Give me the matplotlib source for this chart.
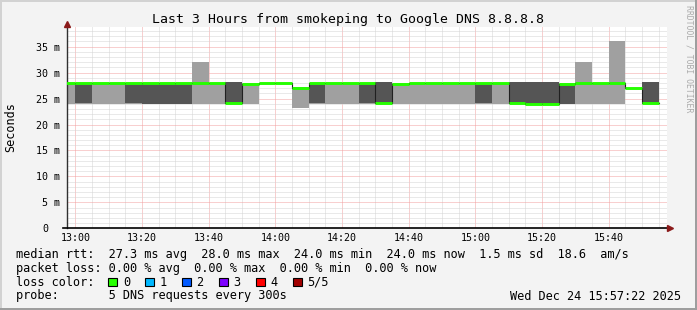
import numpy as np
import matplotlib
matplotlib.use("Agg")
import matplotlib.pyplot as plt
from matplotlib.patches import Rectangle
from matplotlib.transforms import ScaledTranslation

# ---------------- data (5-minute intervals, start times) ----------------
starts = ["12:55", "13:00", "13:05", "13:10", "13:15", "13:20", "13:25", "13:30",
          "13:35", "13:40", "13:45", "13:50", "13:55", "14:00", "14:05", "14:10",
          "14:15", "14:20", "14:25", "14:30", "14:35", "14:40", "14:45", "14:50",
          "14:55", "15:00", "15:05", "15:10", "15:15", "15:20", "15:25", "15:30",
          "15:35", "15:40", "15:45", "15:50"]
# outer smoke (min..max of pings), ms
smoke_lo = [24.0, 24.0, 24.0, 24.0, 24.0, 24.0, 24.0, 24.0,
            24.0, 24.0, 24.0, 24.0, 28.0, 28.0, 23.2, 24.0,
            24.0, 24.0, 24.0, 24.0, 24.0, 24.0, 24.0, 24.0,
            24.0, 24.0, 24.0, 24.0, 23.9, 23.9, 24.0, 24.0,
            24.0, 24.0, 27.1, 24.0]
smoke_hi = [28.0, 28.0, 28.0, 28.0, 28.0, 28.0, 28.0, 28.0,
            32.0, 28.0, 28.2, 28.0, 28.0, 28.0, 27.2, 28.0,
            28.0, 28.0, 28.0, 28.2, 28.0, 28.0, 28.0, 28.0,
            28.0, 28.0, 28.0, 28.2, 28.2, 28.2, 28.0, 32.0,
            28.0, 36.0, 27.1, 28.2]
# inner (darker) smoke, nan where none
core_lo = [np.nan, 24.2, np.nan, np.nan, 24.2, 24.0, 24.0, 24.0,
           np.nan, np.nan, 24.2, np.nan, np.nan, np.nan, np.nan, 24.2,
           np.nan, np.nan, 24.2, 24.2, np.nan, np.nan, np.nan, np.nan,
           np.nan, 24.2, np.nan, 24.2, 24.0, 24.0, 24.0, np.nan,
           np.nan, np.nan, np.nan, 24.2]
core_hi = [np.nan, 27.8, np.nan, np.nan, 27.8, 27.8, 27.8, 27.8,
           np.nan, np.nan, 28.2, np.nan, np.nan, np.nan, np.nan, 27.8,
           np.nan, np.nan, 27.8, 28.2, np.nan, np.nan, np.nan, np.nan,
           np.nan, 27.8, np.nan, 28.2, 28.2, 28.2, 27.8, np.nan,
           np.nan, np.nan, np.nan, 28.2]
median = [28.0, 28.0, 28.0, 28.0, 28.0, 28.0, 28.0, 28.0,
          28.0, 28.0, 24.2, 27.9, 28.0, 28.0, 27.1, 28.0,
          28.0, 28.0, 28.0, 24.2, 27.9, 28.0, 28.0, 28.0,
          28.0, 28.0, 28.0, 24.2, 23.9, 23.9, 27.9, 28.0,
          28.0, 28.0, 27.1, 24.2]
loss = [0] * len(starts)

xtick_labels = ["13:00", "13:20", "13:40", "14:00", "14:20", "14:40", "15:00", "15:20", "15:40"]
ytick_values = [0, 5, 10, 15, 20, 25, 30, 35]
ytick_labels = ["0", "5 m", "10 m", "15 m", "20 m", "25 m", "30 m", "35 m"]

loss_labels = ["0", "1", "2", "3", "4", "5/5"]
loss_colors = ["#26ff00", "#00b8ff", "#0059ff", "#7e00ff", "#ff0000", "#a10000"]

title = "Last 3 Hours from smokeping to Google DNS 8.8.8.8"
stats_line1 = "median rtt:  27.3 ms avg  28.0 ms max  24.0 ms min  24.0 ms now  1.5 ms sd  18.6  am/s"
stats_line2 = "packet loss: 0.00 % avg  0.00 % max  0.00 % min  0.00 % now"
probe_line = "probe:       5 DNS requests every 300s"
date_text = "Wed Dec 24 15:57:22 2025"
x_start, x_end = "12:57:22", "15:57:22"


def to_min(s):
    parts = [int(p) for p in s.split(":")]
    m = (parts[0] - 13) * 60 + parts[1]
    if len(parts) > 2:
        m += parts[2] / 60.0
    return m


# ---------------- figure ----------------
W, H = 697, 310
MONO = "DejaVu Sans Mono"
plt.rcParams["font.family"] = [MONO]
fig = plt.figure(figsize=(W / 100, H / 100), dpi=100)
fig.patch.set_facecolor("#f3f3f3")


def fx(px):
    return px / W


def fy(py):
    return 1 - py / H


ax_l, ax_r, ax_t, ax_b = 66.7, 666.7, 26.7, 228.3
ax = fig.add_axes([fx(ax_l), fy(ax_b), fx(ax_r - ax_l), (ax_b - ax_t) / H])
ax.set_facecolor("white")

x = np.array([to_min(s) for s in starts])
lo = np.array(smoke_lo)
hi = np.array(smoke_hi)
clo = np.array(core_lo)
chi = np.array(core_hi)
med = np.array(median)

light = "#a0a0a0"
dark = "#555555"
ax.bar(x, hi - lo, bottom=lo, width=5, align="edge", color=light, linewidth=0, zorder=2)
mask = ~np.isnan(clo)
ax.bar(x[mask], (chi - clo)[mask], bottom=clo[mask], width=5, align="edge",
       color=dark, linewidth=0, zorder=3)

# thin dark median step line (shows vertical transitions)
xs = np.append(x, x[-1] + 5)
ys = np.append(med, med[-1])
ax.step(xs, ys, where="post", color="#202020", lw=0.8, zorder=4)
# loss-coloured median segments
seg_colors = [loss_colors[l] for l in loss]
ax.hlines(med, x, x + 5, colors=seg_colors, lw=2.1, zorder=5)

ax.set_xticks(np.arange(0, 161, 20))
ax.set_xticklabels(xtick_labels)
ax.set_xticks(np.arange(-5, 180, 5), minor=True)
ax.set_yticks(ytick_values)
ax.set_yticklabels(ytick_labels)
ax.set_yticks(np.arange(0, 39, 1), minor=True)
ax.set_xlim(to_min(x_start), to_min(x_end))
ax.set_ylim(0, 38.85)

ax.grid(which="minor", color="#d4d4d4", linestyle=(0, (1, 1)), linewidth=0.72)
ax.grid(which="major", color="#f2a0a0", linestyle=(0, (1, 1)), linewidth=0.72)
ax.set_axisbelow(True)

ax.tick_params(which="both", length=0)
ax.tick_params(axis="x", which="major", labelsize=7.2, pad=3.6, colors="#000000")
ax.tick_params(axis="y", which="major", labelsize=7.2, pad=4.8, colors="#000000")
# "0" label sits two characters left (rrdtool unit column)
lbl0 = ax.get_yticklabels()[0]
lbl0.set_transform(lbl0.get_transform() + ScaledTranslation(-12 / 100, 0, fig.dpi_scale_trans))

for s in ["top", "right"]:
    ax.spines[s].set_visible(False)
ax.spines["left"].set_color("#303030")
ax.spines["left"].set_linewidth(1.0)
ax.spines["bottom"].set_color("#000000")
ax.spines["bottom"].set_linewidth(1.2)
ax.spines["bottom"].set_bounds(to_min(x_start) - 1.2, to_min(x_end) + 0.4)

# axis arrows
ax.plot([0], [1.013], marker="^", color="#8b1a1a", markersize=4.5, clip_on=False,
        transform=ax.transAxes, zorder=6)
ax.plot([1.006], [0], marker=">", color="#8b1a1a", markersize=4.5, clip_on=False,
        transform=ax.transAxes, zorder=6)

fig.text(fx(11), fy(127.5), "Seconds", rotation=90, ha="center", va="center",
         fontsize=8.5, color="#000000")

# title
fig.text(fx(348), fy(19), title, ha="center", va="center", fontsize=9.5, color="#000000")

# watermark
fig.text(fx(688.5), fy(59), "RRDTOOL / TOBI OETIKER", rotation=-90, ha="center", va="center",
         fontsize=5.9, color="#ababab")

# legend / stats
fs = 8.6
fig.text(fx(15.5), fy(254.3), stats_line1, ha="left", va="center", fontsize=fs)
fig.text(fx(15.5), fy(268.3), stats_line2, ha="left", va="center", fontsize=fs)
fig.text(fx(15.5), fy(282.3), "loss color:", ha="left", va="center", fontsize=fs)
for i, (lab, col) in enumerate(zip(loss_labels, loss_colors)):
    bx = 108.3 + i * 36.9
    fig.add_artist(Rectangle((fx(bx), fy(286.0)), fx(9), 8 / H, transform=fig.transFigure,
                             facecolor=col, edgecolor="#000000", linewidth=0.8))
    fig.text(fx(bx + 14.5), fy(282.3), lab, ha="left", va="center", fontsize=fs)
fig.text(fx(15.5), fy(296.0), probe_line, ha="left", va="center", fontsize=fs)
fig.text(fx(680.5), fy(296.0), date_text, ha="right", va="center", fontsize=fs)

# frame (rrdtool-style shading)
fig.add_artist(Rectangle((0, fy(2)), 1, 2 / H, transform=fig.transFigure, color="#d2d2d2", lw=0))
fig.add_artist(Rectangle((0, 0), fx(2), 1, transform=fig.transFigure, color="#d2d2d2", lw=0))
fig.add_artist(Rectangle((0, 0), 1, 2 / H, transform=fig.transFigure, color="#9e9e9e", lw=0))
fig.add_artist(Rectangle((fx(W - 2), 0), fx(2), 1, transform=fig.transFigure, color="#9e9e9e", lw=0))

fig.savefig("out.png", dpi=100, facecolor=fig.get_facecolor())
